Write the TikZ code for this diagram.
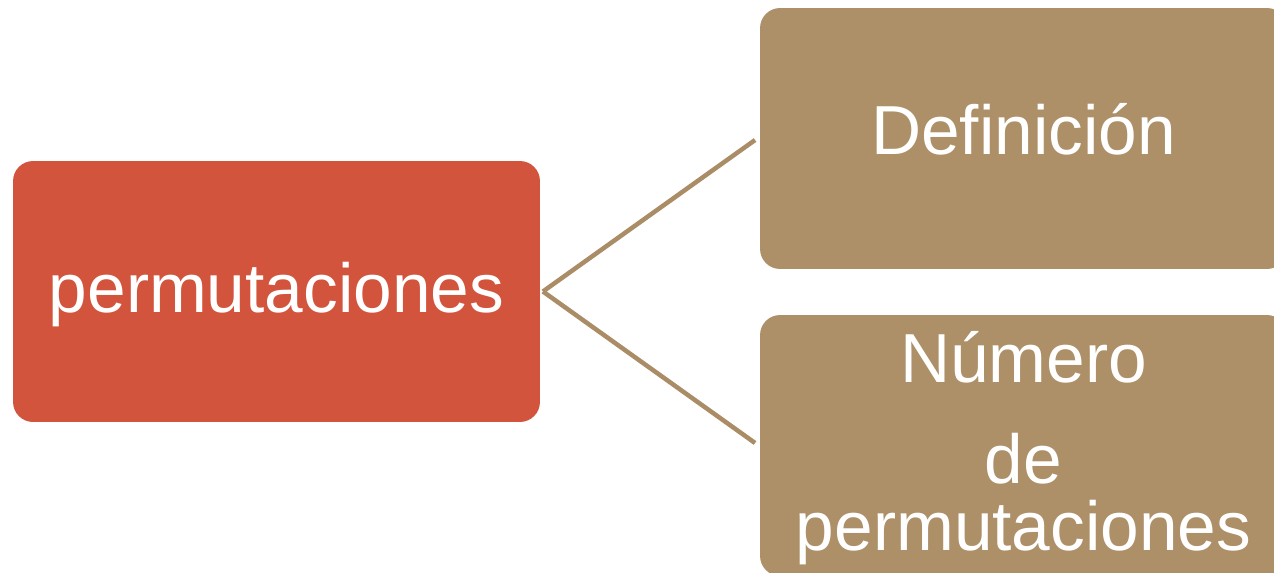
\documentclass[tikz,border=0pt]{standalone}
\usepackage{fontspec}
\setmainfont{Liberation Sans}
\usetikzlibrary{calc}
\definecolor{boxred}{RGB}{211,84,60}
\definecolor{boxtan}{RGB}{173,143,104}
\definecolor{linktan}{RGB}{170,141,102}
\begin{document}
\begin{tikzpicture}[x=0.02cm,y=-0.02cm,
  box/.style={rounded corners=0.4cm, minimum width=10.54cm, minimum height=5.22cm,
              inner sep=0pt, outer sep=0pt},
  redbox/.style={box, fill=boxred},
  tanbox/.style={box, fill=boxtan},
  lbl/.style={text=white, font=\fontsize{39.5}{47}\selectfont, inner sep=0pt, anchor=base},
  link/.style={draw=linktan, line width=0.09cm}]
\useasboundingbox (0,0) rectangle (1274,572);
\clip (0,0) rectangle (1274,572);

% boxes
\node[redbox] (perm) at (276.5,291.5) {};
\node[tanbox] (def) at (1023.5,138.5) {};
\node[tanbox] (num) at (1023.5,445.5) {};

% labels
\node[lbl] (permtext) at ($(perm.center)+(0,20.5)$) {permutaciones};
\node[lbl] (deftext) at ($(def.center)+(0,15.5)$) {Definición};
\node[lbl] (numa) at ($(num.center)+(0,-63.5)$) {Número};
\node[lbl] (numb) at ($(num.center)+(0,37.5)$) {de};
\node[lbl] (numc) at ($(num.center)+(0,104.5)$) {permutaciones};

% connectors
\draw[link] ($(perm.east)+(3,0)$) -- ($(def.west)+(-5,1.5)$);
\draw[link] ($(perm.east)+(3,0)$) -- ($(num.west)+(-5,-2.5)$);
\end{tikzpicture}
\end{document}
